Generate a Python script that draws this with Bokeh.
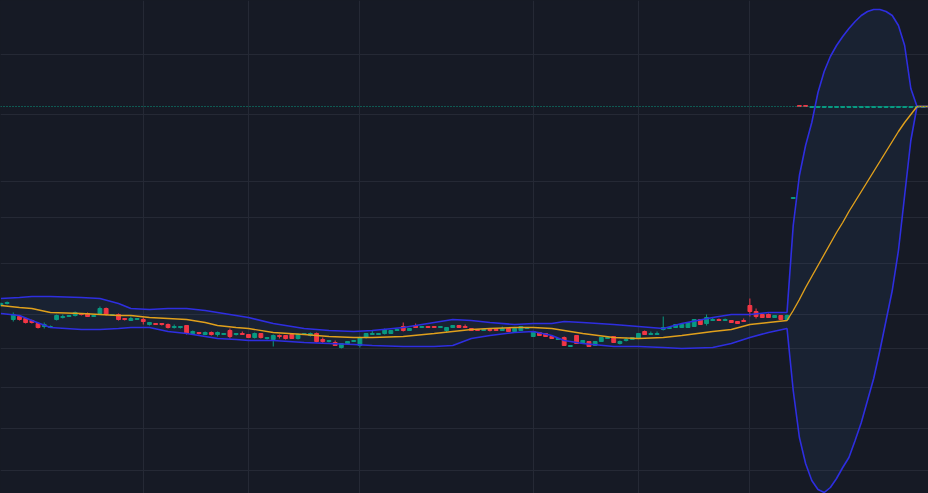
from bokeh.plotting import figure
from bokeh.models import Range1d, FixedTicker, Span, ColumnDataSource
from bokeh.embed import file_html
from bokeh.resources import INLINE

# ---- candle data (bar index 0..149) ----
opens = [195, 197, 181, 184, 182, 180, 177, 174, 173, 181,
         183, 184, 185, 187, 187, 184, 187, 192, 185, 186,
         182, 180, 181, 181, 176, 177, 177, 176, 173, 173,
         175, 167, 168, 166, 168, 166, 166, 170, 166, 167,
         166, 163, 167, 162, 161, 165, 165, 166, 162, 166,
         165, 167, 161, 159, 158, 153, 157, 159, 155, 163,
         166, 166, 167, 167, 170, 174, 170, 175, 173, 174,
         174, 173, 170, 173, 175, 174, 172, 171, 170, 171,
         171, 170, 172, 169, 170, 172, 164, 168, 167, 164,
         161, 163, 154, 165, 157, 159, 155, 159, 162, 164,
         157, 160, 161, 162, 169, 166, 166, 171, 172, 173,
         173, 173, 174, 181, 177, 180, 181, 180, 180, 179,
         180, 195, 189, 186, 186, 183, 185, 181, 302, 395,
         395, 393, 393, 393, 393, 393, 393, 393, 393, 393,
         393, 393, 393, 393, 393, 393, 393, 393, 393, 393]
closes = [197, 198, 186, 181, 178, 178, 173, 176, 174, 185,
          184, 185, 188, 186, 184, 185, 192, 186, 186, 181,
          181, 182, 182, 179, 178, 176, 176, 173, 174, 174,
          167, 169, 167, 168, 166, 168, 167, 164, 167, 166,
          163, 167, 163, 163, 165, 164, 162, 162, 166, 167,
          167, 159, 159, 160, 155, 157, 159, 160, 163, 167,
          167, 167, 171, 170, 171, 170, 172, 173, 174, 173,
          173, 174, 173, 175, 173, 173, 170, 170, 171, 170,
          170, 172, 169, 172, 174, 173, 169, 165, 164, 162,
          162, 155, 155, 157, 160, 154, 159, 163, 163, 158,
          159, 161, 163, 167, 166, 167, 167, 173, 173, 176,
          176, 178, 181, 176, 183, 181, 180, 181, 178, 177,
          179, 189, 184, 183, 183, 185, 181, 185, 303, 394,
          394, 394, 394, 394, 394, 394, 394, 394, 394, 394,
          394, 394, 394, 394, 394, 394, 394, 394, 394, 394]
highs = [198, 199, 188, 185, 183, 181, 178, 178, 175, 186,
         186, 185, 189, 187, 188, 185, 194, 193, 186, 187,
         182, 184, 182, 183, 178, 177, 177, 177, 176, 174,
         175, 170, 168, 169, 169, 169, 167, 172, 167, 169,
         166, 168, 167, 163, 166, 166, 165, 166, 167, 167,
         168, 168, 163, 160, 160, 157, 159, 160, 164, 167,
         170, 167, 172, 170, 172, 178, 172, 177, 174, 174,
         174, 174, 173, 175, 175, 176, 172, 171, 171, 172,
         171, 174, 172, 172, 174, 173, 169, 168, 167, 164,
         162, 164, 155, 165, 160, 159, 159, 163, 164, 164,
         160, 163, 163, 167, 170, 169, 169, 184, 173, 176,
         176, 178, 181, 181, 186, 183, 182, 182, 180, 179,
         182, 202, 192, 187, 187, 185, 185, 186, 303, 395,
         395, 394, 394, 394, 394, 394, 394, 394, 394, 394,
         394, 394, 394, 394, 394, 394, 394, 394, 394, 394]
lows = [194, 196, 179, 180, 177, 177, 172, 172, 173, 180,
        182, 184, 184, 185, 184, 184, 186, 185, 185, 180,
        180, 180, 181, 176, 175, 176, 175, 172, 172, 172,
        166, 166, 166, 166, 165, 164, 166, 162, 165, 166,
        163, 162, 162, 161, 154, 162, 161, 162, 161, 166,
        164, 158, 157, 158, 155, 152, 157, 159, 153, 162,
        166, 166, 166, 167, 170, 169, 170, 173, 173, 173,
        173, 173, 168, 173, 173, 173, 170, 170, 170, 169,
        170, 170, 169, 169, 170, 172, 164, 165, 164, 162,
        161, 155, 154, 157, 157, 154, 155, 159, 162, 158,
        156, 159, 161, 162, 166, 166, 166, 170, 172, 173,
        173, 173, 174, 176, 175, 180, 180, 180, 178, 177,
        179, 184, 182, 183, 183, 183, 181, 180, 302, 394,
        394, 393, 393, 393, 393, 393, 393, 393, 393, 393,
        393, 393, 393, 393, 393, 393, 393, 393, 393, 393]

# ---- Bollinger band (20) values read at bar indexes ----
band_idx = [0, 3, 5, 8, 13, 16, 19, 21, 24, 27, 30, 33, 35, 38, 40, 44, 49, 53, 57, 60,
            65, 70, 73, 76, 79, 83, 86, 89, 91, 94, 99, 103, 107, 110, 115, 118, 121, 124, 127,
            128, 129, 130, 131, 132, 133, 134, 135, 136, 137, 138, 139, 140, 141, 142, 143,
            144, 145, 146, 147, 148, 149, 150]
upper = [202, 203, 204, 204, 203, 202, 197, 192, 191, 192, 192, 190, 188, 185, 183, 177, 172, 170, 169, 170,
         173, 178, 181, 180, 178, 176, 177, 177, 179, 178, 176, 174, 172, 177, 183, 186, 186, 188, 188,
         275, 325, 355, 378, 408, 429, 444, 455, 464, 472, 479, 485, 489, 491, 491, 489,
         485, 475, 455, 412, 394, 394, 394]
basis = [195, 193, 192, 188, 187, 186, 185, 185, 183, 182, 181, 178, 175, 173, 172, 168, 166, 164, 163, 163,
         164, 167, 169, 171, 172, 173, 173, 172, 170, 167, 163, 162, 163, 165, 169, 171, 176, 178, 180,
         190, 201, 213, 224, 235, 246, 257, 268, 278, 289, 299, 309, 319, 329, 339, 349,
         359, 369, 378, 386, 394, 394, 394]
lower = [187, 185, 180, 173, 171, 171, 172, 173, 173, 169, 167, 164, 162, 161, 160, 160, 158, 157, 156, 155,
         154, 154, 155, 162, 165, 168, 169, 165, 160, 157, 154, 154, 153, 152, 153, 157, 163, 168, 172,
         110, 63, 37, 20, 11, 8, 13, 22, 33, 43, 60, 78, 100, 122, 150, 180,
         210, 250, 305, 360, 394, 394, 394]

last_price = 394
x_grid = [23, 40, 58, 86, 103, 121]
y_grid = [445.7, 385.7, 319, 283, 237, 186, 152.5, 113, 72, 30]

BG = "#161a25"
UP = "#089981"
DOWN = "#f23645"

p = figure(width=928, height=493,
           x_range=Range1d(-0.0646, 149.855), y_range=Range1d(7, 500),
           output_backend="svg", toolbar_location=None, min_border=0,
           background_fill_color=BG, border_fill_color=BG, outline_line_color=None)
p.axis.visible = False
p.xaxis.ticker = FixedTicker(ticks=x_grid)
p.yaxis.ticker = FixedTicker(ticks=y_grid)
p.grid.grid_line_color = "#252935"
p.grid.grid_line_width = 1

# band fill
p.varea(x=band_idx, y1=lower, y2=upper, fill_color="#3b6ea8", fill_alpha=0.1)

# last price line
p.add_layout(Span(location=last_price, dimension="width", line_color=UP,
                  line_dash="1 2", line_width=1))

# candles
idx = list(range(len(opens)))
colors = [UP if c >= o else DOWN for o, c in zip(opens, closes)]
src = ColumnDataSource(dict(
    x=idx, o=opens, c=closes, h=highs, l=lows,
    top=[max(o, c) for o, c in zip(opens, closes)],
    bot=[min(o, c) for o, c in zip(opens, closes)],
    col=colors))
p.segment(x0="x", y0="h", x1="x", y1="l", color="col", line_width=1, source=src)
p.vbar(x="x", width=0.62, top="top", bottom="bot", fill_color="col",
       line_color="col", line_width=1, source=src)

# bands and basis
p.line(band_idx, upper, line_color="#2e2ee0", line_width=1.6)
p.line(band_idx, lower, line_color="#2e2ee0", line_width=1.6)
p.line(band_idx, basis, line_color="#e0a01c", line_width=1.4)

html = file_html(p, INLINE)
html = html.replace("<body>", '<body style="background-color:#161a25;">')
open("out.html", "w").write(html)
